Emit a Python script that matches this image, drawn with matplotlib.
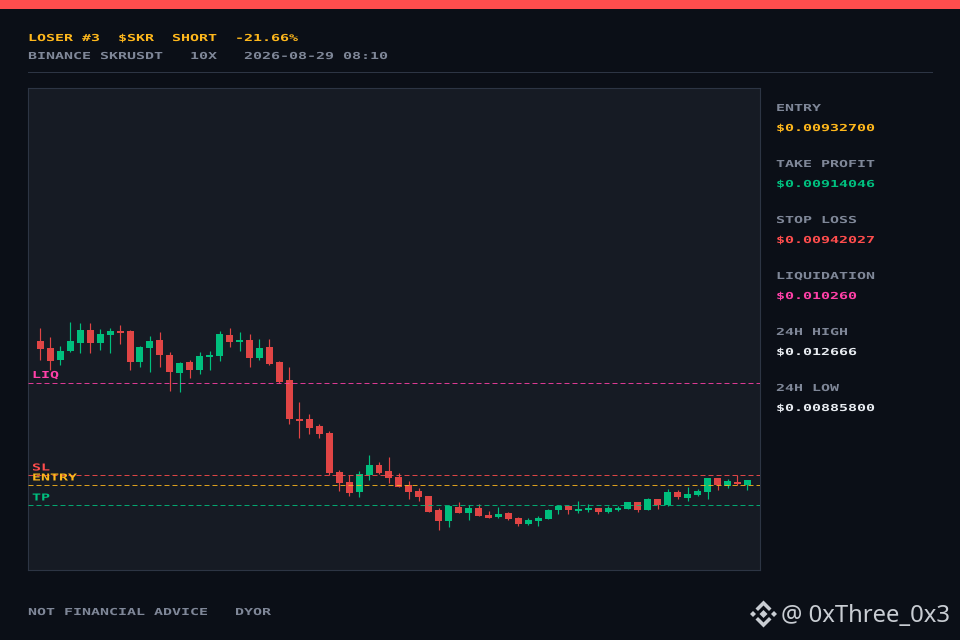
import matplotlib
matplotlib.use("Agg")
import matplotlib.pyplot as plt
from matplotlib.patches import Rectangle, Polygon
from matplotlib.patheffects import AbstractPathEffect
from matplotlib.transforms import Affine2D

PRICE_UNIT = 1e-6
opens = [10657,10593,10482,10565,10639,10758,10639,10712,10749,10749,10464,10593,10666,10528,10362,10464,10390,10510,
         10519,10712,10648,10666,10500,10602,10464,10298,9939,9939,9875,9810,9452,9360,9268,9424,9516,9461,
         9406,9332,9277,9231,9102,9001,9130,9074,9120,9056,9038,9074,9028,8973,9001,9019,9102,9139,
         9093,9102,9120,9084,9102,9111,9176,9102,9203,9148,9268,9212,9240,9268,9396,9323,9360,9332]
highs = [10776,10694,10611,10831,10822,10822,10767,10776,10804,10758,10611,10703,10740,10556,10464,10482,10556,10565,
         10749,10776,10740,10721,10675,10675,10473,10418,10096,9985,9893,9829,9470,9424,9461,9608,9544,9590,
         9442,9369,9304,9231,9120,9148,9176,9148,9157,9093,9130,9084,9038,9028,9047,9111,9148,9139,
         9185,9157,9120,9139,9139,9176,9176,9212,9203,9295,9286,9314,9295,9396,9396,9387,9424,9378]
lows = [10482,10390,10436,10556,10546,10546,10574,10546,10629,10390,10418,10372,10418,10197,10188,10316,10353,10390,
        10473,10602,10565,10418,10482,10436,10270,9893,9764,9801,9764,9424,9277,9231,9222,9378,9433,9350,
        9314,9203,9185,9084,8918,8946,9074,9010,9047,9028,9028,9010,8955,8964,8955,9019,9065,9065,
        9074,9084,9065,9074,9093,9111,9084,9102,9111,9139,9203,9185,9231,9203,9286,9304,9332,9286]
closes = [10583,10473,10565,10657,10758,10639,10721,10749,10730,10464,10602,10657,10528,10372,10454,10390,10519,10528,
          10721,10648,10666,10500,10593,10445,10280,9939,9921,9856,9801,9442,9350,9258,9433,9516,9442,9396,
          9314,9268,9222,9084,9001,9139,9074,9120,9047,9028,9065,9019,8973,9010,9028,9102,9139,9102,
          9111,9120,9084,9120,9120,9176,9102,9203,9148,9268,9222,9249,9277,9396,9332,9369,9341,9378]

entry_price = 0.00932700
tp_price = 0.00914046
sl_price = 0.00942027
liq_price = 0.010260

title_line = "LOSER #3  $SKR  SHORT  -21.66%"
sub_line = "BINANCE SKRUSDT   10X   2026-08-29 08:10"
footer = "NOT FINANCIAL ADVICE   DYOR"
watermark = "@ 0xThree_0x3"
side_labels = ["ENTRY", "TAKE PROFIT", "STOP LOSS", "LIQUIDATION", "24H HIGH", "24H LOW"]
side_values = ["$0.00932700", "$0.00914046", "$0.00942027", "$0.010260", "$0.012666", "$0.00885800"]

BG = "#0b0f17"
PANEL = "#161b24"
EDGE = "#2d3544"
RED = "#e04545"
GREEN = "#00bf7d"
C_RED = "#ff4d4d"
C_GREEN = "#00c07f"
C_YEL = "#ffb81c"
C_PINK = "#ff40a8"
C_GRAY = "#7f8798"
C_WHITE = "#e8ecf1"
side_colors = [C_YEL, C_GREEN, C_RED, C_PINK, C_WHITE, C_WHITE]


class StretchX(AbstractPathEffect):
    """Widen a text run about its origin (pixel-font look)."""
    def __init__(self, sx):
        super().__init__()
        self.sx = sx

    def draw_path(self, renderer, gc, tpath, affine, rgbFace=None):
        renderer.draw_path(gc, tpath, Affine2D().scale(self.sx, 1) + affine, rgbFace)


W, H = 960, 640
fig = plt.figure(figsize=(9.6, 6.4), dpi=100, facecolor=BG)


def px_text(x, y, s, color, bold=True):
    # 9 px advance, 7 px cap height
    fs_px = 9.6
    fs = fs_px * 72 / 100
    sx = 9.0 / (0.602 * fs_px)
    t = fig.text(x / W, 1 - y / H, s, color=color, fontsize=fs, family="DejaVu Sans Mono",
                 weight="bold" if bold else "normal", ha="left", va="baseline", parse_math=False)
    t.set_path_effects([StretchX(sx)])
    return t


fig.add_artist(Rectangle((0, 1 - 9 / H), 1, 9 / H, transform=fig.transFigure, color=C_RED, lw=0))
fig.add_artist(Rectangle((28 / W, 1 - 73 / H), 905 / W, 1 / H, transform=fig.transFigure, color=EDGE, lw=0))

px_text(28, 41, title_line, C_YEL)
px_text(28, 59, sub_line, C_GRAY)
px_text(28, 615, footer, C_GRAY)

for i, (lab, val, col) in enumerate(zip(side_labels, side_values, side_colors)):
    px_text(776, 111 + 56 * i, lab, C_GRAY)
    px_text(776, 131 + 56 * i, val, col)

ax = fig.add_axes([28 / W, 1 - 570 / H, 732 / W, 482 / H], facecolor=PANEL)
for s in ax.spines.values():
    s.set_color(EDGE)
    s.set_linewidth(0.8)
ax.set_xticks([])
ax.set_yticks([])

for i, (o, h, l, c) in enumerate(zip(opens, highs, lows, closes)):
    col = GREEN if c >= o else RED
    ax.vlines(i, l * PRICE_UNIT, h * PRICE_UNIT, color=col, lw=0.85, zorder=2)
    ax.bar(i, abs(c - o) * PRICE_UNIT, bottom=min(o, c) * PRICE_UNIT, width=0.7, color=col, lw=0, zorder=3)

ax.set_xlim(-1.245, 72.26)
ax.set_ylim(0.0085473, 0.0129817)

level_lines = [(liq_price, C_PINK, "LIQ", 378), (sl_price, C_RED, "SL", 470.5),
               (entry_price, C_YEL, "ENTRY", 480.5), (tp_price, C_GREEN, "TP", 500.5)]
nudge = ax.get_yaxis_transform() + Affine2D().translate(0, 0.4)
for price, col, lab, base in level_lines:
    ax.plot([0, 1], [price, price], transform=nudge, color=col, lw=0.72, dashes=(5, 3),
            alpha=0.85, zorder=4, scaley=False, scalex=False)
for price, col, lab, base in level_lines:
    t = px_text(32, base, lab, col)
    t.set_zorder(5)

# watermark logo (Binance-style mark) and handle
LOGO = "#c9cdd3"
cx, cy = 763.5, 614
def logo_poly(pts):
    fig.add_artist(Polygon([((cx + a) / W, 1 - (cy + b) / H) for a, b in pts], closed=True,
                           transform=fig.transFigure, color=LOGO, lw=0))
logo_poly([(0, -4), (4, 0), (0, 4), (-4, 0)])
logo_poly([(-13.5, 0), (-10.5, -3), (-7.5, 0), (-10.5, 3)])
logo_poly([(13.5, 0), (10.5, -3), (7.5, 0), (10.5, 3)])
logo_poly([(0, -13.5), (8, -5.5), (5.5, -3), (0, -8.5), (-5.5, -3), (-8, -5.5)])
logo_poly([(0, 13.5), (8, 5.5), (5.5, 3), (0, 8.5), (-5.5, 3), (-8, 5.5)])
fig.text(781 / W, 1 - 622 / H, watermark, color=LOGO, fontsize=17.2, family="Noto Sans",
         ha="left", va="baseline", parse_math=False)

fig.savefig("out.png", dpi=100, facecolor=BG)
